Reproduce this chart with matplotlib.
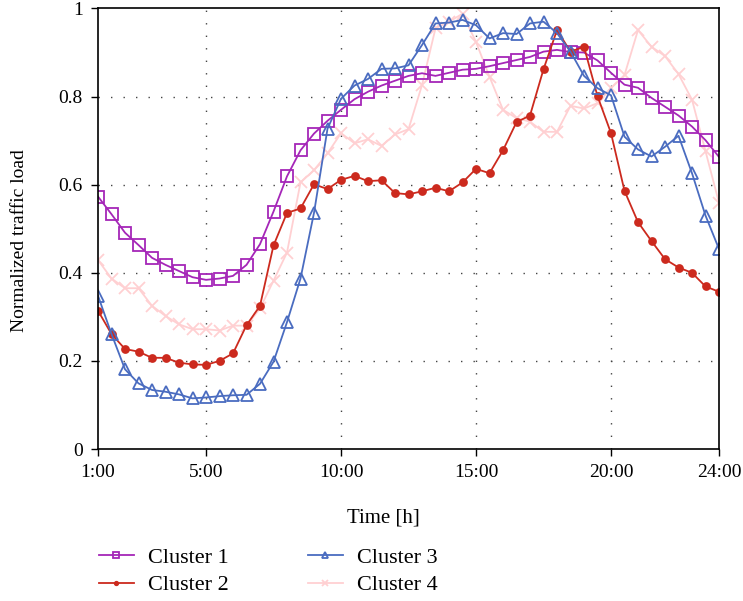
"""
Normalized traffic load per cluster over a day (half-hour steps).

Creates:
  - out.png
"""

import matplotlib.pyplot as plt
from matplotlib.ticker import FuncFormatter

# half-hour steps from 1:00 to 24:00
HOURS = [1 + 0.5 * i for i in range(47)]

CLUSTER_1 = [
    0.573, 0.533, 0.491, 0.463, 0.434, 0.418, 0.404, 0.390, 0.384, 0.387,
    0.393, 0.418, 0.465, 0.539, 0.619, 0.678, 0.716, 0.745, 0.770, 0.794,
    0.811, 0.825, 0.836, 0.847, 0.853, 0.847, 0.854, 0.861, 0.863, 0.869,
    0.876, 0.883, 0.890, 0.902, 0.906, 0.901, 0.900, 0.882, 0.854, 0.827,
    0.820, 0.797, 0.777, 0.757, 0.732, 0.701, 0.663,
]
CLUSTER_2 = [
    0.314, 0.261, 0.227, 0.221, 0.207, 0.207, 0.196, 0.192, 0.191, 0.200,
    0.217, 0.281, 0.325, 0.462, 0.536, 0.546, 0.601, 0.590, 0.611, 0.620,
    0.608, 0.610, 0.581, 0.578, 0.585, 0.593, 0.585, 0.605, 0.636, 0.626,
    0.678, 0.742, 0.757, 0.862, 0.951, 0.902, 0.913, 0.801, 0.717, 0.586,
    0.515, 0.472, 0.431, 0.412, 0.400, 0.369, 0.357,
]
CLUSTER_3 = [
    0.348, 0.261, 0.181, 0.149, 0.134, 0.130, 0.124, 0.115, 0.117, 0.120,
    0.122, 0.123, 0.148, 0.198, 0.288, 0.387, 0.536, 0.727, 0.795, 0.825,
    0.840, 0.863, 0.864, 0.871, 0.917, 0.966, 0.968, 0.974, 0.962, 0.932,
    0.944, 0.942, 0.966, 0.970, 0.944, 0.902, 0.847, 0.819, 0.803, 0.709,
    0.680, 0.664, 0.686, 0.711, 0.626, 0.530, 0.454,
]
CLUSTER_4 = [
    0.429, 0.387, 0.365, 0.365, 0.325, 0.302, 0.283, 0.272, 0.272, 0.269,
    0.280, 0.280, 0.319, 0.382, 0.446, 0.605, 0.633, 0.671, 0.717, 0.694,
    0.703, 0.688, 0.714, 0.726, 0.826, 0.955, 0.970, 0.988, 0.924, 0.845,
    0.770, 0.751, 0.743, 0.720, 0.720, 0.779, 0.773, 0.785, 0.819, 0.849,
    0.951, 0.913, 0.892, 0.851, 0.793, 0.676, 0.559,
]

X_TICKS = [1, 5, 10, 15, 20, 24]
X_TICK_LABELS = ["1:00", "5:00", "10:00", "15:00", "20:00", "24:00"]
Y_TICKS = [0, 0.2, 0.4, 0.6, 0.8, 1.0]

SERIES = [
    ("Cluster 1", CLUSTER_1, "#A526B8", "s", 9),
    ("Cluster 2", CLUSTER_2, "#CC2A1E", "o", 5),
    ("Cluster 3", CLUSTER_3, "#4A6CC0", "^", 9),
    ("Cluster 4", CLUSTER_4, "#FFD0D2", "x", 9),
]


def main() -> None:
    plt.rcParams["font.family"] = ["Liberation Serif", "DejaVu Serif"]
    plt.rcParams["font.size"] = 14

    fig = plt.figure(figsize=(7.43, 6.01), dpi=100)
    ax = fig.add_axes([0.1319, 0.2529, 0.8358, 0.7330])

    # draw light series first so darker ones sit on top
    order = [3, 0, 1, 2]
    handles = {}
    for idx in order:
        label, values, color, marker, ms = SERIES[idx]
        filled = marker in ("o", "x")
        (line,) = ax.plot(
            HOURS,
            values,
            color=color,
            linewidth=1.3,
            marker=marker,
            markersize=ms,
            markerfacecolor=color if filled else "none",
            markeredgecolor=color,
            markeredgewidth=1.3,
            label=label,
        )
        handles[label] = line

    ax.set_xlim(1, 24)
    ax.set_ylim(0, 1)
    ax.set_xticks(X_TICKS)
    ax.set_xticklabels(X_TICK_LABELS)
    ax.set_yticks(Y_TICKS)
    ax.yaxis.set_major_formatter(FuncFormatter(lambda v, _: f"{v:g}"))
    ax.tick_params(direction="out", length=5, width=1, labelsize=14, pad=6)

    for x in X_TICKS[1:-1]:
        ax.axvline(x, color="#444444", linewidth=1.0, linestyle=(0, (1, 8)), zorder=0)
    for y in Y_TICKS[1:-1]:
        ax.axhline(y, color="#444444", linewidth=1.0, linestyle=(0, (1, 8)), zorder=0)

    for spine in ax.spines.values():
        spine.set_linewidth(1.2)

    ax.set_xlabel("Time [h]", fontsize=15)
    ax.xaxis.set_label_coords((383 - 98) / 621, -0.135)
    ax.set_ylabel("Normalized traffic load", fontsize=14)
    ax.yaxis.set_label_coords(-0.113, 0.474)

    labels = ["Cluster 1", "Cluster 2", "Cluster 3", "Cluster 4"]
    fig.legend(
        [handles[l] for l in labels],
        labels,
        loc="upper left",
        bbox_to_anchor=(0.106, 0.122),
        ncol=2,
        frameon=False,
        fontsize=16,
        markerscale=0.5,
        handlelength=1.58,
        handletextpad=0.63,
        columnspacing=3.55,
        labelspacing=0.3,
    )

    fig.savefig("out.png", dpi=100)
    plt.close(fig)


if __name__ == "__main__":
    main()
